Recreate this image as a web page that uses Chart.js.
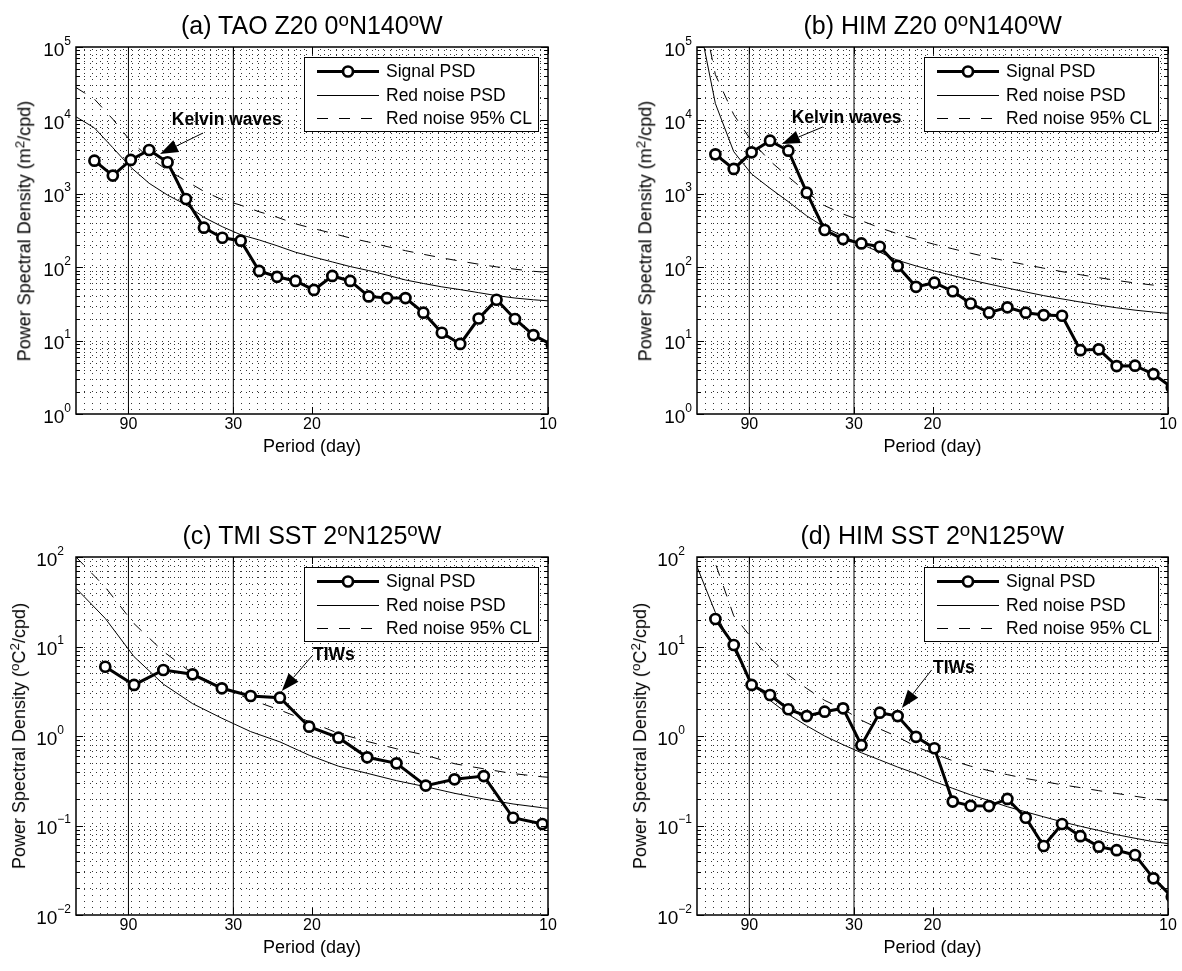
<!DOCTYPE html>
<html>
<head>
<meta charset="utf-8">
<title>PSD panels</title>
<script src="https://cdn.jsdelivr.net/npm/chart.js"></script>
<style>
  html, body { margin: 0; padding: 0; background: #fff; }
  body { position: relative; width: 1182px; height: 971px; overflow: hidden;
         font-family: "Liberation Sans", Arial, Helvetica, sans-serif; color: #000; }
  canvas { position: absolute; }
  .txt { position: absolute; white-space: nowrap; line-height: 1; }
  .title { font-size: 25px; }
  .xlab, .ylab { font-size: 18px; }
  sup { font-size: 0.75em; vertical-align: 0.45em; line-height: 0; }
</style>
</head>
<body>
<script>
const FONT = '"Liberation Sans", Arial, Helvetica, sans-serif';

// x axis = frequency (cpd), labelled with the period in days
const periodTicks = [90, 30, 20, 10];
const markPeriods = [90, 30];
const seriesNames = ['Signal PSD', 'Red noise PSD', 'Red noise 95% CL'];

// frequency bins of panels a, b, d and of panel c
const freqAB = [0, 0.0039, 0.0078, 0.0116, 0.0155, 0.0194, 0.0233, 0.0271, 0.0310, 0.0349, 0.0388, 0.0426, 0.0465, 0.0504,
  0.0543, 0.0581, 0.0620, 0.0659, 0.0698, 0.0736, 0.0775, 0.0814, 0.0853, 0.0891, 0.0930, 0.0969, 0.1008];
const freqC = [0, 0.0062, 0.0123, 0.0185, 0.0247, 0.0309, 0.0370, 0.0432, 0.0494, 0.0556, 0.0617, 0.0679, 0.0741, 0.0802,
  0.0864, 0.0926, 0.0988, 0.1049];

// (a) TAO Z20
const signalA = [null, 2830, 1770, 2890, 3950, 2690, 850, 345, 252, 230, 89, 74, 65, 49, 76, 65, 40, 38, 38, 24, 12.8, 9.0, 20, 36, 19.7, 11.9, 8.8];
const redA = [11200, 7900, 4250, 2300, 1390, 960, 710, 478, 356, 277, 235, 196, 160, 137, 118, 102, 90, 78, 67, 60, 54, 49.5, 45, 41, 38, 36, 34.5];
const clA = [28000, 19500, 10400, 5200, 3100, 2100, 1500, 1080, 830, 700, 570, 480, 390, 335, 290, 250, 220, 191, 168, 150, 134, 121, 110, 101, 94, 88, 84];

// (b) HIM Z20
const signalB = [null, 3450, 2180, 3675, 5290, 3865, 1035, 321, 242, 211, 190, 104, 54, 61.5, 47, 32, 24, 28.4, 24, 22.3, 21.8, 7.4, 7.6, 4.5, 4.55, 3.5, 2.3];
const redB = [300000, 17000, 3750, 1860, 1190, 780, 500, 350, 265, 205, 160, 124, 104, 89, 77, 67, 59, 52, 46, 41, 37, 33.5, 30.5, 28, 26, 24.5, 23.2];
const clB = [700000, 42000, 12000, 5200, 2800, 1700, 1050, 690, 530, 430, 345, 285, 240, 205, 178, 155, 136, 121, 108, 97, 87, 79, 72, 66, 61, 57, 54];

// (c) TMI SST
const signalC = [null, 5.94, 3.72, 5.46, 4.89, 3.41, 2.80, 2.68, 1.27, 0.957, 0.578, 0.495, 0.279, 0.328, 0.357, 0.122, 0.104, null];
const redC = [44.7, 20.6, 7.7, 3.8, 2.3, 1.58, 1.12, 0.86, 0.61, 0.46, 0.383, 0.317, 0.271, 0.229, 0.198, 0.174, 0.158, 0.145];
const clC = [100, 46, 18, 8.8, 5.0, 3.5, 2.55, 1.95, 1.45, 1.07, 0.87, 0.72, 0.61, 0.49, 0.43, 0.38, 0.35, 0.33];

// (d) HIM SST
const signalD = [null, 20.3, 10.4, 3.72, 2.87, 1.99, 1.67, 1.87, 2.04, 0.79, 1.82, 1.67, 0.98, 0.73, 0.185, 0.166, 0.165, 0.198, 0.122, 0.059, 0.104, 0.076, 0.058, 0.053, 0.0468, 0.0257, 0.016];
const redD = [78, 24, 9.3, 4.0, 2.5, 1.75, 1.3, 1.0, 0.8, 0.65, 0.54, 0.45, 0.38, 0.31, 0.26, 0.22, 0.19, 0.162, 0.142, 0.125, 0.11, 0.098, 0.088, 0.079, 0.072, 0.066, 0.062];
const clD = [224, 85, 22, 12.5, 7.4, 4.8, 3.4, 2.5, 2.0, 1.5, 1.2, 0.98, 0.76, 0.63, 0.53, 0.46, 0.41, 0.37, 0.335, 0.31, 0.285, 0.265, 0.245, 0.228, 0.212, 0.198, 0.187];

const gridStep = 1 / 600;

const panels = [
  { title: '(a) TAO Z20 0<sup>o</sup>N140<sup>o</sup>W', ylab: 'Power Spectral Density (m<sup>2</sup>/cpd)',
    box: { l: 76, t: 47, r: 548, b: 414 }, ymin: 1, ymax: 1e5, ylabDx: 52,
    freq: freqAB, sig: signalA, red: redA, cl: clA,
    note: { text: 'Kelvin waves', at: [0.0203, 10100], tail: [0.0269, 6730], tip: [0.0178, 3480] } },
  { title: '(b) HIM Z20 0<sup>o</sup>N140<sup>o</sup>W', ylab: 'Power Spectral Density (m<sup>2</sup>/cpd)',
    box: { l: 697, t: 47, r: 1168, b: 414 }, ymin: 1, ymax: 1e5, ylabDx: 52,
    freq: freqAB, sig: signalB, red: redB, cl: clB,
    note: { text: 'Kelvin waves', at: [0.0201, 10700], tail: [0.0267, 8130], tip: [0.0180, 4770] } },
  { title: '(c) TMI SST 2<sup>o</sup>N125<sup>o</sup>W', ylab: 'Power Spectral Density (<sup>o</sup>C<sup>2</sup>/cpd)',
    box: { l: 76, t: 557, r: 548, b: 915 }, ymin: 0.01, ymax: 100, ylabDx: 57,
    freq: freqC, sig: signalC, red: redC, cl: clC,
    note: { text: 'TIWs', at: [0.0502, 8.04], tail: [0.0500, 7.83], tip: [0.0436, 3.18] } },
  { title: '(d) HIM SST 2<sup>o</sup>N125<sup>o</sup>W', ylab: 'Power Spectral Density (<sup>o</sup>C<sup>2</sup>/cpd)',
    box: { l: 697, t: 557, r: 1168, b: 915 }, ymin: 0.01, ymax: 100, ylabDx: 57,
    freq: freqAB, sig: signalD, red: redD, cl: clD,
    note: { text: 'TIWs', at: [0.0501, 5.75], tail: [0.0498, 5.46], tip: [0.0435, 2.06] } }
];

const pts = (xs, ys) => xs.map((x, i) => ({ x, y: ys[i] })).filter(p => p.y != null);

function logValues(p) {
  const out = [];
  for (let e = Math.round(Math.log10(p.ymin)); e < Math.round(Math.log10(p.ymax)); e++) {
    for (let m = 1; m < 10; m++) out.push({ v: m * Math.pow(10, e), major: m === 1 });
  }
  out.push({ v: p.ymax, major: true });
  return out;
}

function addText(cls, html, cx, cy, rotate) {
  const d = document.createElement('div');
  d.className = 'txt ' + cls;
  d.innerHTML = html;
  document.body.appendChild(d);
  d.style.left = (cx - d.offsetWidth / 2) + 'px';
  d.style.top = (cy - d.offsetHeight / 2) + 'px';
  if (rotate) d.style.transform = 'rotate(-90deg)';
}

function drawArrow(ctx, x1, y1, x2, y2) {
  const ang = Math.atan2(y2 - y1, x2 - x1), L = 18, W = 6.5;
  const bx = x2 - L * Math.cos(ang), by = y2 - L * Math.sin(ang);
  ctx.beginPath(); ctx.moveTo(x1, y1); ctx.lineTo(bx, by); ctx.stroke();
  ctx.beginPath();
  ctx.moveTo(x2, y2);
  ctx.lineTo(bx + W * Math.sin(ang), by - W * Math.cos(ang));
  ctx.lineTo(bx - W * Math.sin(ang), by + W * Math.cos(ang));
  ctx.closePath(); ctx.fill();
}

function matlabAxes(p) {
  return {
    id: 'matlabAxes',
    beforeDatasetsDraw(chart) {
      const { ctx, chartArea: a, scales: { x, y } } = chart;
      ctx.save();
      ctx.strokeStyle = 'rgba(0,0,0,0.8)'; ctx.lineWidth = 1; ctx.setLineDash([1, 5]);
      ctx.beginPath();
      for (let i = 1; i * gridStep < 0.1 - 1e-9; i++) {
        const px = Math.round(x.getPixelForValue(i * gridStep)) + 0.5;
        ctx.moveTo(px, a.top + 2); ctx.lineTo(px, a.bottom);
      }
      logValues(p).forEach(t => {
        if (t.v <= p.ymin * 1.0001 || t.v >= p.ymax * 0.9999) return;
        const py = Math.round(y.getPixelForValue(t.v)) + 0.5;
        ctx.moveTo(a.left + 2, py); ctx.lineTo(a.right, py);
      });
      ctx.stroke();
      ctx.restore();
    },
    afterDatasetsDraw(chart) {
      const { ctx, chartArea: a, scales: { x, y } } = chart;
      ctx.save();
      ctx.setLineDash([]); ctx.strokeStyle = '#000'; ctx.fillStyle = '#000';

      // inward ticks
      ctx.lineWidth = 1; ctx.beginPath();
      logValues(p).forEach(t => {
        const py = Math.round(y.getPixelForValue(t.v)) + 0.5, len = t.major ? 7 : 4;
        ctx.moveTo(a.left, py); ctx.lineTo(a.left + len, py);
        ctx.moveTo(a.right, py); ctx.lineTo(a.right - len, py);
      });
      periodTicks.forEach(d => {
        const px = Math.round(x.getPixelForValue(1 / d)) + 0.5;
        ctx.moveTo(px, a.bottom); ctx.lineTo(px, a.bottom - 7);
        ctx.moveTo(px, a.top); ctx.lineTo(px, a.top + 7);
      });
      ctx.stroke();

      // frame
      ctx.lineWidth = 1.5;
      ctx.strokeRect(a.left, a.top, a.right - a.left, a.bottom - a.top);

      // x tick labels
      ctx.font = `16px ${FONT}`; ctx.textAlign = 'center'; ctx.textBaseline = 'middle';
      periodTicks.forEach(d => ctx.fillText(String(d), x.getPixelForValue(1 / d), a.bottom + 11));

      // y tick labels 10^n
      ctx.textAlign = 'left'; ctx.textBaseline = 'alphabetic';
      const labs = logValues(p).filter(t => t.major).map(t => {
        const e = Math.round(Math.log10(t.v));
        return { v: t.v, exp: e < 0 ? '\u2212' + (-e) : String(e) };
      });
      ctx.font = `19px ${FONT}`;
      const wBase = ctx.measureText('10').width;
      ctx.font = `12px ${FONT}`;
      const wExp = Math.max(...labs.map(l => ctx.measureText(l.exp).width));
      const x0 = a.left - 5 - wBase - wExp;
      labs.forEach(l => {
        const py = y.getPixelForValue(l.v);
        ctx.font = `19px ${FONT}`; ctx.fillText('10', x0, py + 8.5);
        ctx.font = `12px ${FONT}`; ctx.fillText(l.exp, x0 + wBase, py - 2.5);
      });

      // legend
      const bx = Math.round(a.right) - 244, by = Math.round(a.top) + 10, bw = 234, bh = 74;
      ctx.fillStyle = '#fff'; ctx.fillRect(bx, by, bw, bh);
      ctx.lineWidth = 1; ctx.strokeRect(bx + 0.5, by + 0.5, bw, bh);
      const rows = [by + 14, by + 37.5, by + 61];
      chart.data.datasets.slice(0, 3).forEach((ds, i) => {
        const ry = Math.round(rows[i]) + 0.5;
        ctx.strokeStyle = '#000'; ctx.lineWidth = ds.borderWidth; ctx.setLineDash(ds.borderDash || []);
        ctx.beginPath(); ctx.moveTo(bx + 13, ry); ctx.lineTo(bx + 75, ry); ctx.stroke();
        ctx.setLineDash([]);
        if (ds.pointRadius > 0) {
          ctx.beginPath(); ctx.arc(bx + 44, ry, ds.pointRadius, 0, 2 * Math.PI);
          ctx.fillStyle = '#fff'; ctx.fill();
          ctx.lineWidth = ds.pointBorderWidth; ctx.stroke();
        }
        ctx.fillStyle = '#000'; ctx.font = `17.5px ${FONT}`; ctx.textBaseline = 'middle';
        ctx.fillText(ds.label, bx + 82, ry + 1);
      });

      // annotation
      const n = p.note;
      ctx.font = `bold 17.5px ${FONT}`; ctx.textBaseline = 'middle'; ctx.textAlign = 'left';
      ctx.fillStyle = '#000';
      ctx.fillText(n.text, x.getPixelForValue(n.at[0]), y.getPixelForValue(n.at[1]));
      ctx.lineWidth = 1;
      drawArrow(ctx, x.getPixelForValue(n.tail[0]), y.getPixelForValue(n.tail[1]),
        x.getPixelForValue(n.tip[0]), y.getPixelForValue(n.tip[1]));
      ctx.restore();
    }
  };
}

panels.forEach(p => {
  const b = p.box, W = 591, H = 485;
  const cv = document.createElement('canvas');
  cv.width = W; cv.height = H;
  cv.style.left = (b.l - 76) + 'px';
  cv.style.top = (b.t - 47) + 'px';
  document.body.appendChild(cv);

  new Chart(cv, {
    type: 'line',
    data: {
      datasets: [
        { label: seriesNames[0], data: pts(p.freq, p.sig), borderColor: '#000', borderWidth: 3,
          pointRadius: 5, pointBorderWidth: 2.7, pointBackgroundColor: '#fff', pointBorderColor: '#000' },
        { label: seriesNames[1], data: pts(p.freq, p.red), borderColor: '#000', borderWidth: 1, pointRadius: 0 },
        { label: seriesNames[2], data: pts(p.freq, p.cl), borderColor: '#000', borderWidth: 1,
          borderDash: [11, 11], pointRadius: 0 },
        ...markPeriods.map(d => ({ label: d + ' day', data: [{ x: 1 / d, y: p.ymin }, { x: 1 / d, y: p.ymax }],
          borderColor: '#000', borderWidth: 1, pointRadius: 0 }))
      ]
    },
    options: {
      responsive: false,
      animation: false,
      devicePixelRatio: 1,
      layout: { padding: { left: 76, top: 47, right: W - 76 - (b.r - b.l), bottom: H - 47 - (b.b - b.t) } },
      elements: { line: { tension: 0 } },
      plugins: { legend: { display: false }, tooltip: { enabled: false } },
      scales: {
        x: { type: 'linear', min: 0, max: 0.1, display: false },
        y: { type: 'logarithmic', min: p.ymin, max: p.ymax, display: false }
      }
    },
    plugins: [matlabAxes(p)]
  });

  const cx = (b.l + b.r) / 2;
  addText('title', p.title, cx, b.t - 22);
  addText('xlab', 'Period (day)', cx, b.b + 32);
  addText('ylab', p.ylab, b.l - p.ylabDx, (b.t + b.b) / 2, true);
});
</script>
</body>
</html>
